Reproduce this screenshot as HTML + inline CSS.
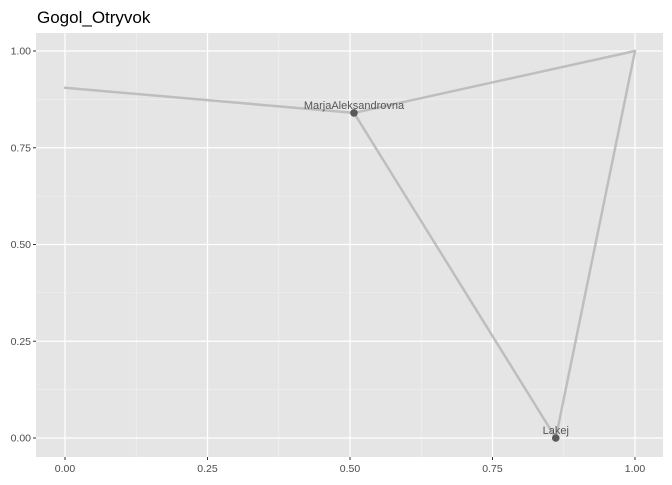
<!DOCTYPE html>
<html><head><meta charset="utf-8"><style>
body{margin:0;background:#fff}
text{font-family:"Liberation Sans",Arial,sans-serif}
</style></head><body>
<svg id="c" width="672" height="480" xmlns="http://www.w3.org/2000/svg">
<text x="37" y="23" font-size="17" fill="#000">Gogol_Otryvok</text>
<rect x="36" y="33" width="627" height="424" fill="#e5e5e5"/>
<g id="grid"></g><g id="edges"></g><g id="nodes"></g><g id="axes"></g>
</svg>
<script>
const nodeNames=["Start","MarjaAleksandrovna","Top","Lakej"];
const nodeX=[0,0.507,1,0.861];
const nodeY=[0.905,0.84,1,0];
const labeled=[false,true,false,true];
const edgeFrom=[0,1,1,3];
const edgeTo=[1,2,3,2];
const ticks=[0,0.25,0.5,0.75,1];
const tickLabels=["0.00","0.25","0.50","0.75","1.00"];
const NS="http://www.w3.org/2000/svg";
const sx=v=>65+v*570, sy=v=>438-v*387;
function mk(t,a,p){const e=document.createElementNS(NS,t);for(const k in a)e.setAttribute(k,a[k]);p.appendChild(e);return e;}
const G=document.getElementById('grid'),E=document.getElementById('edges'),N=document.getElementById('nodes'),A=document.getElementById('axes');
for(let i=0;i<ticks.length-1;i++){const m=(ticks[i]+ticks[i+1])/2;
 let l=mk('line',{x1:sx(m),x2:sx(m),y1:33,y2:457,stroke:'#f2f2f2','stroke-width':0.6},G);
 
 l=mk('line',{x1:36,x2:663,y1:sy(m),y2:sy(m),stroke:'#f2f2f2','stroke-width':0.6},G);
 }
ticks.forEach((t,i)=>{
 let l=mk('line',{x1:sx(t),x2:sx(t),y1:33,y2:457,stroke:'#fff','stroke-width':1.2},G);
 
 l=mk('line',{x1:36,x2:663,y1:sy(t),y2:sy(t),stroke:'#fff','stroke-width':1.2},G);
 
 l=mk('line',{x1:sx(t),x2:sx(t),y1:457,y2:460,stroke:'#333','stroke-width':1},A);
 
 l=mk('line',{x1:33,x2:36,y1:sy(t),y2:sy(t),stroke:'#333','stroke-width':1},A);
 
 let tx=mk('text',{x:sx(t),y:472,'font-size':10.5,fill:'#4d4d4d','text-anchor':'middle'},A);tx.textContent=tickLabels[i];
 
 tx=mk('text',{x:31,y:sy(t)+3.5,'font-size':10.5,fill:'#4d4d4d','text-anchor':'end'},A);tx.textContent=tickLabels[i];
 
});
edgeFrom.forEach((f,i)=>{const t=edgeTo[i];
 const l=mk('line',{x1:sx(nodeX[f]),y1:sy(nodeY[f]),x2:sx(nodeX[t]),y2:sy(nodeY[t]),stroke:'#bebebe','stroke-width':2.5,'stroke-linecap':'round'},E);
 });
nodeNames.forEach((n,i)=>{if(!labeled[i])return;
 const c=mk('circle',{cx:sx(nodeX[i]),cy:sy(nodeY[i]),r:3.8,fill:'#595959'},N);
 
 const t=mk('text',{x:sx(nodeX[i]),y:sy(nodeY[i])-4,'font-size':11,fill:'#555','text-anchor':'middle'},N);t.textContent=n;
 });
</script>
</body></html>
